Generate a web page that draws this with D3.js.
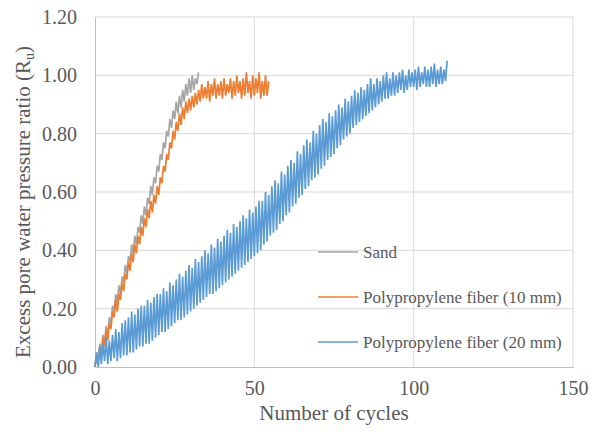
<!DOCTYPE html>
<html lang="en">
  <head>
    <meta charset="UTF-8" />
    <title>Excess pore water pressure ratio</title>
    <script src="https://d3js.org/d3.v7.min.js"></script>
    <style>
      body { margin: 0; background: #fff; }
    </style>
  </head>
  <body>
    <svg width="601" height="432"></svg>
    <script>
      // peak / trough of each loading cycle (index = cycle number)
      var sandHigh = [0.05,0.08,0.11,0.14,0.17,0.21,0.25,0.28,0.31,0.35,0.38,0.42,0.45,0.48,0.52,0.55,0.58,0.62,0.65,0.69,0.73,0.77,0.81,0.85,0.88,0.91,0.93,0.95,0.97,0.99,1.00,0.99,1.01];
      var sandLow = [0.00,0.02,0.05,0.08,0.11,0.15,0.19,0.22,0.25,0.29,0.32,0.36,0.39,0.42,0.46,0.49,0.52,0.56,0.59,0.63,0.67,0.71,0.75,0.79,0.82,0.85,0.87,0.89,0.91,0.93,0.94,0.95,0.97];

      var pp10High = [0.04,0.07,0.10,0.13,0.15,0.19,0.23,0.25,0.29,0.32,0.36,0.39,0.42,0.45,0.48,0.51,0.54,0.57,0.59,0.62,0.65,0.69,0.73,0.77,0.81,0.84,0.87,0.89,0.91,0.92,0.93,0.94,0.95,0.97,0.96,0.98,0.97,0.99,0.97,0.98,0.99,0.97,0.99,0.98,1.00,0.98,0.99,1.01,0.98,1.00,0.99,1.01,0.98,1.00,0.98];
      var pp10Low = [0.00,0.01,0.04,0.07,0.09,0.13,0.17,0.19,0.23,0.26,0.30,0.33,0.36,0.39,0.42,0.45,0.48,0.51,0.53,0.56,0.59,0.63,0.67,0.71,0.75,0.78,0.81,0.83,0.85,0.87,0.88,0.89,0.90,0.91,0.92,0.92,0.91,0.93,0.92,0.93,0.92,0.93,0.94,0.92,0.93,0.94,0.92,0.93,0.94,0.92,0.93,0.94,0.92,0.93,0.93];

      var pp20High = [0.05,0.07,0.08,0.10,0.09,0.11,0.13,0.12,0.15,0.16,0.17,0.19,0.18,0.20,0.21,0.21,0.23,0.22,0.24,0.25,0.25,0.27,0.26,0.29,0.28,0.30,0.32,0.31,0.33,0.35,0.34,0.37,0.36,0.38,0.40,0.39,0.42,0.41,0.44,0.43,0.45,0.47,0.46,0.49,0.48,0.50,0.52,0.51,0.54,0.53,0.55,0.57,0.57,0.60,0.59,0.62,0.64,0.63,0.67,0.66,0.69,0.71,0.70,0.74,0.73,0.76,0.78,0.77,0.81,0.80,0.83,0.85,0.84,0.87,0.86,0.88,0.90,0.89,0.92,0.91,0.93,0.95,0.94,0.96,0.95,0.97,0.99,0.97,0.99,0.98,1.00,1.01,0.99,1.01,1.00,1.01,1.02,1.00,1.02,1.01,1.02,1.03,1.01,1.03,1.02,1.03,1.04,1.02,1.03,1.02,1.05];
      var pp20Low = [0.00,0.00,0.01,0.02,0.01,0.02,0.03,0.02,0.03,0.04,0.04,0.05,0.05,0.06,0.07,0.07,0.08,0.08,0.09,0.10,0.11,0.12,0.12,0.13,0.14,0.15,0.16,0.16,0.17,0.18,0.19,0.20,0.21,0.22,0.23,0.24,0.25,0.25,0.26,0.27,0.28,0.29,0.30,0.31,0.32,0.33,0.34,0.35,0.36,0.37,0.38,0.39,0.40,0.42,0.43,0.45,0.46,0.47,0.49,0.50,0.52,0.53,0.55,0.56,0.58,0.59,0.61,0.62,0.64,0.65,0.66,0.68,0.69,0.71,0.72,0.73,0.75,0.76,0.78,0.79,0.80,0.82,0.83,0.84,0.85,0.86,0.87,0.88,0.89,0.90,0.91,0.92,0.92,0.93,0.93,0.94,0.95,0.94,0.95,0.96,0.96,0.95,0.96,0.97,0.96,0.96,0.97,0.96,0.97,0.97,0.98];

      var seriesNames = ["Sand", "Polypropylene fiber (10 mm)", "Polypropylene fiber (20 mm)"];
      var seriesColors = ["#a5a5a5", "#ed7d31", "#5b9bd5"];
      var xTicks = [0, 50, 100, 150];
      var yTicks = [0, 0.2, 0.4, 0.6, 0.8, 1.0, 1.2];

      var serif = "'Liberation Serif', 'DejaVu Serif', serif";

      var svg = d3.select("svg").style("font-family", serif);
      var margin = { left: 95, right: 28, top: 17, bottom: 65 };
      var width = 601 - margin.left - margin.right,
        height = 432 - margin.top - margin.bottom;

      var x = d3.scaleLinear().domain([0, 150]).range([0, width]);
      var y = d3.scaleLinear().domain([0, 1.2]).range([height, 0]);

      var g = svg.append("g").attr("transform", "translate(" + margin.left + "," + margin.top + ")");

      // gridlines
      g.append("g")
        .selectAll("line")
        .data(yTicks.slice(1))
        .join("line")
        .attr("x1", 0)
        .attr("x2", width)
        .attr("y1", (d) => y(d))
        .attr("y2", (d) => y(d))
        .style("stroke", "#d9d9d9");
      g.append("g")
        .selectAll("line")
        .data(xTicks.slice(1))
        .join("line")
        .attr("x1", (d) => x(d))
        .attr("x2", (d) => x(d))
        .attr("y1", 0)
        .attr("y2", height)
        .style("stroke", "#d9d9d9");

      // axes
      var xAxis = g.append("g")
        .attr("transform", "translate(0," + height + ")")
        .call(d3.axisBottom(x).tickValues(xTicks).tickSize(0).tickPadding(14));
      var yAxis = g.append("g")
        .call(d3.axisLeft(y).tickValues(yTicks).tickFormat(d3.format(".2f")).tickSize(0).tickPadding(18));
      [xAxis, yAxis].forEach(function (a) {
        a.attr("font-family", null).attr("font-size", null);
        a.select(".domain").style("stroke", "#bfbfbf");
        a.selectAll("text")
          .style("font-family", serif)
          .style("font-size", "20px")
          .style("fill", "#595959");
      });

      // one zigzag per series: trough at the start of each cycle, peak half a cycle later
      function cyclePoints(low, high) {
        var pts = [];
        low.forEach(function (v, i) {
          pts.push([i, v]);
          pts.push([i + 0.5, high[i]]);
        });
        return pts;
      }
      var allSeries = [
        cyclePoints(sandLow, sandHigh),
        cyclePoints(pp10Low, pp10High),
        cyclePoints(pp20Low, pp20High),
      ];

      var line = d3.line()
        .x((d) => x(d[0]))
        .y((d) => y(d[1]));

      g.append("g")
        .selectAll("path")
        .data(allSeries)
        .join("path")
        .attr("d", line)
        .style("fill", "none")
        .style("stroke", (d, i) => seriesColors[i])
        .style("stroke-width", 1.7);

      // legend
      var legend = svg.append("g")
        .selectAll("g")
        .data(seriesNames)
        .join("g")
        .attr("transform", (d, i) => "translate(318," + (252 + i * 45) + ")");
      legend.append("line")
        .attr("x1", 0)
        .attr("x2", 40)
        .style("stroke", (d, i) => seriesColors[i])
        .style("stroke-width", 1.3);
      legend.append("text")
        .attr("x", 45)
        .attr("dy", "0.35em")
        .style("font-size", "17px")
        .style("fill", "#595959")
        .text((d) => d);

      // axis titles
      svg.append("text")
        .attr("x", margin.left + width / 2)
        .attr("y", 420)
        .attr("text-anchor", "middle")
        .style("font-size", "21px")
        .style("fill", "#595959")
        .text("Number of cycles");

      var yTitle = svg.append("text")
        .attr("transform", "translate(30," + (margin.top + height / 2 + 10) + ") rotate(-90)")
        .attr("text-anchor", "middle")
        .style("font-size", "21px")
        .style("fill", "#595959");
      yTitle.append("tspan").text("Excess pore water pressure ratio (R");
      yTitle.append("tspan").attr("dy", 4).style("font-size", "14px").text("u");
      yTitle.append("tspan").attr("dy", -4).text(")");
    </script>
  </body>
</html>
